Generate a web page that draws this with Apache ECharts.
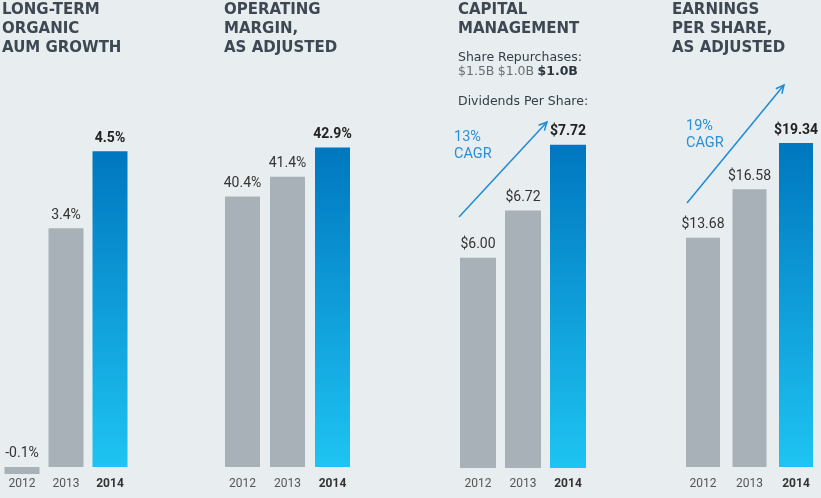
<!DOCTYPE html>
<html><head><meta charset="utf-8">
<script src="https://cdn.jsdelivr.net/npm/echarts@6/dist/echarts.min.js"></script>
<style>html,body{margin:0;padding:0;background:#e8edf0;}#c{width:821px;height:498px;}</style>
</head><body><div id="c"></div>
<script>
var years = ['2012', '2013', '2014'];
var aumGrowth = [-0.1, 3.4, 4.5];
var opMargin = [40.4, 41.4, 42.9];
var dividends = [6.00, 6.72, 7.72];
var eps = [13.68, 16.58, 19.34];
var repurchases = ['$1.5B', '$1.0B', '$1.0B'];
var cagrDiv = '13%';
var cagrEps = '19%';

var GREY = '#a9b1b8';
var blueGrad = new echarts.graphic.LinearGradient(0, 0, 0, 1, [
  {offset: 0, color: '#0077c0'}, {offset: 1, color: '#1ec4f2'}]);

function fmtPct(v) { return v.toFixed(1) + '%'; }
function fmtUsd(v) { return '$' + v.toFixed(2); }

function mkData(arr, fmt) {
  return arr.map(function (v, i) {
    var last = i === arr.length - 1;
    return {
      value: v,
      itemStyle: {color: last ? blueGrad : GREY},
      label: {
        formatter: fmt(v),
        fontWeight: last ? 'bold' : 'normal',
        color: last ? '#222' : '#333'
      }
    };
  });
}

var panels = [
  {left: -3, width: 135, top: 102, bottom: 17, min: -0.2, max: 5.2, data: aumGrowth, fmt: fmtPct, bw: 35, margin: -3},
  {left: 220, width: 135, top: 100, bottom: 31, min: 26.6, max: 45.32, data: opMargin, fmt: fmtPct, bw: 35, margin: 11},
  {left: 455.5, width: 135, top: 100, bottom: 30, min: 2.8, max: 8.4, data: dividends, fmt: fmtUsd, bw: 36, margin: 10},
  {left: 679.75, width: 139.5, top: 100, bottom: 31, min: 0, max: 21.91, data: eps, fmt: fmtUsd, bw: 34, margin: 11}
];

var grids = [], xAxes = [], yAxes = [], series = [];
panels.forEach(function (p, i) {
  grids.push({left: p.left, width: p.width, top: p.top, bottom: p.bottom});
  xAxes.push({
    type: 'category', gridIndex: i, data: years,
    axisLine: {show: false, onZero: false}, axisTick: {show: false},
    axisLabel: {
      interval: 0, margin: p.margin, fontFamily: 'Roboto', fontSize: 12, color: '#555',
      formatter: function (v) { return v === '2014' ? '{b|' + v + '}' : v; },
      rich: {b: {fontFamily: 'Roboto', fontSize: 12, fontWeight: 'bold', color: '#333'}}
    }
  });
  yAxes.push({type: 'value', gridIndex: i, min: p.min, max: p.max, show: false, splitLine: {show: false}});
  series.push({
    type: 'bar', xAxisIndex: i, yAxisIndex: i, barWidth: p.bw,
    data: mkData(p.data, p.fmt),
    label: {show: true, position: 'top', distance: 6, fontFamily: 'Roboto', fontSize: 14},
    silent: true, animation: false
  });
});

var titleStyle = {fontFamily: 'DejaVu Sans', fontSize: 15, fontWeight: 'bold', color: '#3d4853', lineHeight: 19};
var titles = [
  {text: 'LONG-TERM\nORGANIC\nAUM GROWTH', left: 2, top: 1, padding: 0, textStyle: titleStyle},
  {text: 'OPERATING\nMARGIN,\nAS ADJUSTED', left: 224, top: 1, padding: 0, textStyle: titleStyle},
  {text: 'CAPITAL\nMANAGEMENT', left: 458, top: 1, padding: 0, textStyle: titleStyle},
  {text: 'EARNINGS\nPER SHARE,\nAS ADJUSTED', left: 672, top: 1, padding: 0, textStyle: titleStyle}
];

function arrow(x1, y1, x2, y2) {
  var ang = Math.atan2(y2 - y1, x2 - x1), L = 9, a = 0.45;
  return [
    {type: 'line', shape: {x1: x1, y1: y1, x2: x2, y2: y2}, style: {stroke: '#1e8bd3', lineWidth: 1.5}, silent: true},
    {type: 'polyline', shape: {points: [
      [x2 - L * Math.cos(ang - a), y2 - L * Math.sin(ang - a)], [x2, y2],
      [x2 - L * Math.cos(ang + a), y2 - L * Math.sin(ang + a)]]},
      style: {stroke: '#1e8bd3', lineWidth: 1.5, fill: null}, silent: true}
  ];
}

var small = {fontFamily: 'DejaVu Sans', fontSize: 12.5, fill: '#333d47'};
var graphic = [
  {type: 'text', left: 458, top: 51, style: Object.assign({text: 'Share Repurchases:'}, small)},
  {type: 'text', left: 458, top: 65, style: {
    text: '{g|' + repurchases[0] + '} {g|' + repurchases[1] + '} {b|' + repurchases[2] + '}',
    rich: {
      g: {fontFamily: 'DejaVu Sans', fontSize: 12.5, fill: '#666e75'},
      b: {fontFamily: 'DejaVu Sans', fontSize: 12.5, fontWeight: 'bold', fill: '#2c3640'}
    }
  }},
  {type: 'text', left: 458, top: 95, style: Object.assign({text: 'Dividends Per Share:'}, small)},
  {type: 'text', left: 454, top: 129, style: {text: cagrDiv + '\nCAGR', fontFamily: 'Roboto', fontSize: 14.5, lineHeight: 17, fill: '#2a8fd4'}},
  {type: 'text', left: 686, top: 118, style: {text: cagrEps + '\nCAGR', fontFamily: 'Roboto', fontSize: 14.5, lineHeight: 17, fill: '#2a8fd4'}}
].concat(arrow(459, 217, 547, 122)).concat(arrow(687, 203, 784, 85));

var chart = echarts.init(document.getElementById('c'));
chart.setOption({
  backgroundColor: '#e8edf0',
  animation: false,
  title: titles,
  grid: grids, xAxis: xAxes, yAxis: yAxes, series: series,
  graphic: graphic
});
</script></body></html>
